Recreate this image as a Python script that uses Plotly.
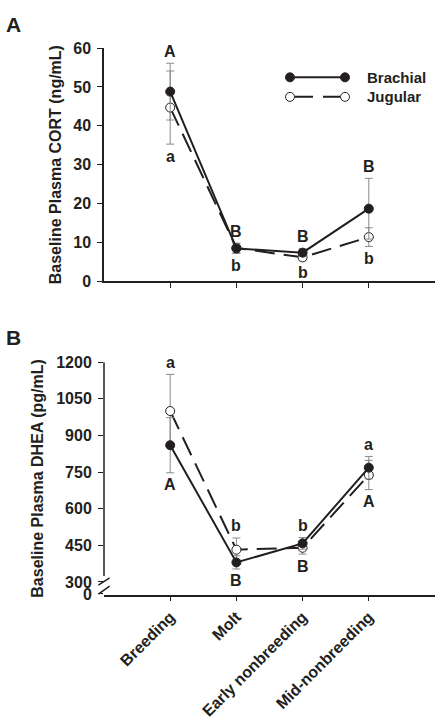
import plotly.graph_objects as go

# ---------------- data ----------------
categories = ["Breeding", "Molt", "Early nonbreeding", "Mid-nonbreeding"]

cort_brachial = [48.8, 8.5, 7.4, 18.7]
cort_brachial_err = [7.3, 1.3, 1.0, 7.8]
cort_jugular = [44.7, 8.6, 6.2, 11.4]
cort_jugular_err = [9.4, 1.2, 0.9, 2.4]
cort_top_letters = ["A", "B", "B", "B"]
cort_bottom_letters = ["a", "b", "b", "b"]

dhea_brachial = [860, 380, 458, 768]
dhea_brachial_err = [113, 27, 24, 46]
dhea_jugular = [1000, 432, 440, 738]
dhea_jugular_err = [150, 48, 26, 60]
dhea_top_letters = ["a", "b", "b", "a"]
dhea_bottom_letters = ["A", "B", "B", "A"]

cort_ticks = [0, 10, 20, 30, 40, 50, 60]
dhea_ticks = [251, 300, 450, 600, 750, 900, 1050, 1200]
dhea_ticktext = ["0", "300", "450", "600", "750", "900", "1050", "1200"]

# ---------------- style ----------------
W, H = 443, 726
INK = "#231f20"
FONT = "Liberation Sans, Arial, sans-serif"
ERR = "#8a8a8a"


def px(x):
    return x / W


def py(y):
    return 1 - y / H


fig = go.Figure()


def add_series(xa, ya, yb, eb, yj, ej):
    fig.add_trace(go.Scatter(
        x=categories, y=yj, xaxis=xa, yaxis=ya, mode="lines+markers",
        name="Jugular", showlegend=False,
        line=dict(color=INK, width=2, dash="20px,9px"),
        marker=dict(symbol="circle", size=9, color="white",
                    line=dict(color=INK, width=1)),
        error_y=dict(type="data", array=ej, color=ERR, thickness=1, width=4),
        cliponaxis=False,
    ))
    fig.add_trace(go.Scatter(
        x=categories, y=yb, xaxis=xa, yaxis=ya, mode="lines+markers",
        name="Brachial", showlegend=False,
        line=dict(color=INK, width=2),
        marker=dict(symbol="circle", size=9, color=INK,
                    line=dict(color=INK, width=1)),
        error_y=dict(type="data", array=eb, color=ERR, thickness=1, width=4),
        cliponaxis=False,
    ))


add_series("x", "y", cort_brachial, cort_brachial_err, cort_jugular, cort_jugular_err)
add_series("x2", "y2", dhea_brachial, dhea_brachial_err, dhea_jugular, dhea_jugular_err)

annotations = []
letter_font = dict(family=FONT, size=16, color=INK, weight="bold")


def add_letters(xa, ya, yb, eb, yj, ej, tops, bottoms):
    for i, c in enumerate(categories):
        top = max(yb[i] + eb[i], yj[i] + ej[i])
        bot = min(yb[i] - eb[i], yj[i] - ej[i])
        annotations.append(dict(x=c, y=top, xref=xa, yref=ya, text=tops[i],
                                showarrow=False, yshift=12, yanchor="middle",
                                font=letter_font))
        annotations.append(dict(x=c, y=bot, xref=xa, yref=ya, text=bottoms[i],
                                showarrow=False, yshift=-12, yanchor="middle",
                                font=letter_font))


add_letters("x", "y", cort_brachial, cort_brachial_err, cort_jugular, cort_jugular_err,
            cort_top_letters, cort_bottom_letters)
add_letters("x2", "y2", dhea_brachial, dhea_brachial_err, dhea_jugular, dhea_jugular_err,
            dhea_top_letters, dhea_bottom_letters)

# panel labels and axis titles
annotations += [
    dict(x=px(4), y=py(17), xref="paper", yref="paper", text="A", showarrow=False,
         xanchor="left", yanchor="middle", font=dict(family=FONT, size=21, color=INK, weight="bold")),
    dict(x=px(4), y=py(337), xref="paper", yref="paper", text="B", showarrow=False,
         xanchor="left", yanchor="middle", font=dict(family=FONT, size=21, color=INK, weight="bold")),
    dict(x=px(55), y=py(161), xref="paper", yref="paper", text="Baseline Plasma CORT (ng/mL)",
         showarrow=False, textangle=-90, xanchor="center", yanchor="middle",
         font=dict(family=FONT, size=16, color=INK, weight="bold")),
    dict(x=px(38), y=py(482), xref="paper", yref="paper", text="Baseline Plasma DHEA (pg/mL)",
         showarrow=False, textangle=-90, xanchor="center", yanchor="middle",
         font=dict(family=FONT, size=16, color=INK, weight="bold")),
    dict(x=px(365), y=py(71), xref="paper", yref="paper", text="Brachial", showarrow=False,
         xanchor="left", yanchor="middle", font=dict(family=FONT, size=15, color=INK, weight="bold")),
    dict(x=px(365), y=py(91), xref="paper", yref="paper", text="Jugular", showarrow=False,
         xanchor="left", yanchor="middle", font=dict(family=FONT, size=15, color=INK, weight="bold")),
]

shapes = [
    # legend lines
    dict(type="line", xref="paper", yref="paper", x0=px(290), x1=px(345), y0=py(71), y1=py(71),
         line=dict(color=INK, width=2)),
    dict(type="line", xref="paper", yref="paper", x0=px(295), x1=px(340), y0=py(91), y1=py(91),
         line=dict(color=INK, width=2, dash="18px,10px")),
]
for cx, cy, fill in [(290, 71, INK), (345, 71, INK), (290, 91, "white"), (345, 91, "white")]:
    shapes.append(dict(type="circle", xref="paper", yref="paper",
                       xsizemode="pixel", ysizemode="pixel",
                       xanchor=px(cx), yanchor=py(cy), x0=-4.5, x1=4.5, y0=-4.5, y1=4.5,
                       fillcolor=fill, line=dict(color=INK, width=1)))
# broken y axis (panel B)
shapes += [
    dict(type="line", xref="x2 domain", yref="y2", x0=0, x1=0, y0=324, y1=1200,
         line=dict(color=INK, width=1.5)),
    dict(type="line", xref="x2 domain", yref="y2", x0=-0.017, x1=0.017, y0=287, y1=317,
         line=dict(color=INK, width=1.5)),
    dict(type="line", xref="x2 domain", yref="y2", x0=-0.017, x1=0.017, y0=250, y1=283,
         line=dict(color=INK, width=1.5)),
]

tick_font = dict(family=FONT, size=16, color=INK, weight="bold")
xdom = [px(104), px(435)]

fig.update_layout(
    width=W, height=H,
    margin=dict(l=0, r=0, t=0, b=0),
    paper_bgcolor="white", plot_bgcolor="white",
    showlegend=False,
    annotations=annotations,
    shapes=shapes,
    xaxis=dict(domain=xdom, anchor="y", type="category", categoryorder="array",
               categoryarray=categories, range=[-1, 4], showticklabels=False,
               ticks="outside", ticklen=5, tickcolor=INK, tickwidth=1,
               showline=True, linecolor=INK, linewidth=1.5, showgrid=False, zeroline=False),
    yaxis=dict(domain=[py(280), py(41)], anchor="x", range=[0, 60], tickvals=cort_ticks,
               ticks="outside", ticklen=5, tickcolor=INK, tickwidth=1, tickfont=tick_font,
               ticklabelstandoff=3,
               showline=True, linecolor=INK, linewidth=1.5, showgrid=False, zeroline=False),
    xaxis2=dict(domain=xdom, anchor="y2", type="category", categoryorder="array",
                categoryarray=categories, range=[-1, 4], tickangle=-45, tickfont=tick_font,
                ticks="outside", ticklen=5, tickcolor=INK, tickwidth=1,
                showline=True, linecolor=INK, linewidth=1.5, showgrid=False, zeroline=False),
    yaxis2=dict(domain=[py(600.7), py(362.7)], anchor="x2", range=[248, 1200],
                tickvals=dhea_ticks, ticktext=dhea_ticktext,
                ticks="outside", ticklen=5, tickcolor=INK, tickwidth=1, tickfont=tick_font,
                ticklabelstandoff=3,
                showline=False, showgrid=False, zeroline=False),
)

fig.write_html("out.html", config={"displayModeBar": False},
               post_script="document.body.style.margin='0';")
